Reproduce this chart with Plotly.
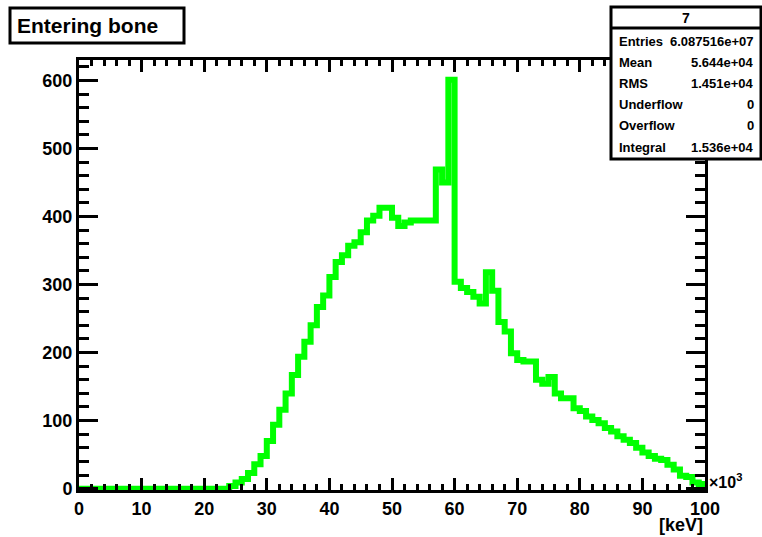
import numpy as np
import plotly.graph_objects as go

# Histogram: energy of particles entering bone, 100 bins of 1 (x10^3 keV)
bin_edges = list(range(0, 101))
counts = (
    [0] * 24
    + [4, 9, 14, 23, 36, 48]
    + [70, 94, 116, 140, 167, 194, 216, 240, 267, 284]
    + [311, 333, 343, 357, 362, 377, 394, 401, 413, 413]
    + [398, 386, 391, 394, 394, 394, 394, 469, 450, 601]
    + [304, 295, 289, 282, 272, 318, 291, 245, 231, 199]
    + [189, 187, 187, 160, 154, 164, 140, 133, 133, 118]
    + [114, 106, 101, 96, 89, 84, 77, 72, 67, 60]
    + [53, 48, 44, 42, 35, 28, 19, 17, 9, 7]
)
x_ticks = list(range(0, 101, 10))
y_ticks = list(range(0, 601, 100))

title_text = "Entering bone"
stats_title = "7"
entries_text = "6.087516e+07"
x_unit_label = "[keV]"
x_exponent_label = "\u00d710<sup>3</sup>"

# statistics from the histogram contents (bin centres in keV)
c = np.array(counts, dtype=float)
centers_kev = (np.array(bin_edges[:-1]) + 0.5) * 1000.0
integral = c.sum()
mean = (c * centers_kev).sum() / integral
rms = np.sqrt((c * (centers_kev - mean) ** 2).sum() / integral)
stats_rows = [
    ("Entries", entries_text),
    ("Mean", f"{mean:.4g}"),
    ("RMS", f"{rms:.4g}"),
    ("Underflow", "0"),
    ("Overflow", "0"),
    ("Integral", f"{integral:.4g}"),
]

W, H = 762, 537
L, R, T, B = 79, 705, 60, 490
FONT = "Liberation Sans"
GREEN = "#00ff00"


def px(xp):
    return (xp - L) / (R - L)


def py(yp):
    return (B - yp) / (B - T)


fig = go.Figure()
fig.add_trace(go.Scatter(
    x=bin_edges,
    y=counts + [counts[-1]],
    mode="lines",
    line=dict(color=GREEN, width=6, shape="hv"),
    hoverinfo="skip",
))

axis_common = dict(
    showgrid=False, zeroline=False, showline=True, linewidth=3,
    linecolor="black", mirror="ticks", ticks="inside", tickwidth=2.5,
    tickcolor="black",
    tickfont=dict(family=FONT, size=18, color="black", weight="bold"),
)
fig.update_xaxes(
    range=[0, 100], tickmode="array", tickvals=x_ticks,
    ticktext=[str(v) for v in x_ticks], ticklen=12,
    minor=dict(dtick=2, tick0=0, ticks="inside", ticklen=6, tickwidth=2.5,
               tickcolor="black", showgrid=False),
    **axis_common,
)
fig.update_yaxes(
    range=[-2, 630], tickmode="array", tickvals=y_ticks,
    ticktext=[str(v) for v in y_ticks], ticklen=19,
    minor=dict(dtick=20, tick0=0, ticks="inside", ticklen=10, tickwidth=2.5,
               tickcolor="black", showgrid=False),
    **axis_common,
)

shapes = [
    # title box
    dict(type="rect", xref="paper", yref="paper", x0=px(10), x1=px(184),
         y0=py(43), y1=py(8), line=dict(color="black", width=3),
         fillcolor="white", layer="above"),
    # statistics box
    dict(type="rect", xref="paper", yref="paper", x0=px(611), x1=px(761),
         y0=py(159), y1=py(7), line=dict(color="black", width=3),
         fillcolor="white", layer="above"),
    dict(type="line", xref="paper", yref="paper", x0=px(611), x1=px(761),
         y0=py(28), y1=py(28), line=dict(color="black", width=3),
         layer="above"),
]

annotations = [
    dict(text=title_text, x=px(15), y=py(25.5), xref="paper", yref="paper",
         xanchor="left", yanchor="middle", showarrow=False,
         font=dict(family=FONT, size=21, color="black", weight="bold")),
    dict(text=stats_title, x=px(686), y=py(18), xref="paper", yref="paper",
         xanchor="center", yanchor="middle", showarrow=False,
         font=dict(family=FONT, size=14, color="black", weight="bold")),
    dict(text=x_unit_label, x=1.0, y=py(525), xref="paper", yref="paper",
         xanchor="right", yanchor="middle", showarrow=False,
         font=dict(family=FONT, size=18, color="black", weight="bold")),
    dict(text=x_exponent_label, x=px(707), y=py(481), xref="paper",
         yref="paper", xanchor="left", yanchor="middle", showarrow=False,
         font=dict(family=FONT, size=16, color="black", weight="bold")),
]
for i, (name, val) in enumerate(stats_rows):
    yrow = py(41.7 + 21.06 * i)
    annotations.append(dict(
        text=name, x=px(617), y=yrow, xref="paper", yref="paper",
        xanchor="left", yanchor="middle", showarrow=False,
        font=dict(family=FONT, size=13, color="black", weight="bold")))
    annotations.append(dict(
        text=val, x=px(756), y=yrow, xref="paper", yref="paper",
        xanchor="right", yanchor="middle", showarrow=False,
        font=dict(family=FONT, size=13, color="black", weight="bold")))

fig.update_layout(
    width=W, height=H,
    margin=dict(l=L, r=W - R, t=T, b=H - B),
    paper_bgcolor="white", plot_bgcolor="white",
    showlegend=False, shapes=shapes, annotations=annotations,
)

fig.write_html("out.html")
